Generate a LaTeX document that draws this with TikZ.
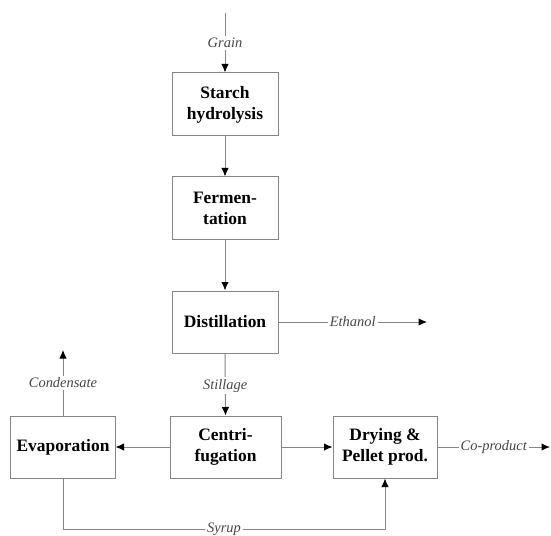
\documentclass[tikz,border=0pt]{standalone}
\usepackage{fontspec}
\setmainfont{Liberation Serif}
\usetikzlibrary{arrows.meta}
\definecolor{linegray}{HTML}{858585}
\definecolor{labgray}{HTML}{454545}
\tikzset{
  unit/.style={draw=linegray, line width=1bp, rectangle, inner sep=0pt,
    minimum height=62bp, align=center, font=\fontsize{17.5}{21}\selectfont\bfseries},
  flow/.style={draw=linegray, line width=1bp,
    -{Latex[length=8.5bp,width=7.5bp,color=black]}},
  lab/.style={fill=white, inner sep=2bp, text=labgray,
    font=\fontsize{14.5}{16}\selectfont\itshape}
}
\begin{document}
\begin{tikzpicture}[x=1bp,y=-1bp]
  \useasboundingbox (0,0) rectangle (551,536);

  % process units
  \node[unit, minimum width=106bp, minimum height=63bp] (starch) at (225,104.5) {Starch\\hydrolysis};
  \node[unit, minimum width=106bp] (ferm) at (225,208) {Fermen-\\tation};
  \node[unit, minimum width=106bp] (dist) at (225,322) {Distillation};
  \node[unit, minimum width=104bp] (evap) at (63,447) {Evaporation};
  \node[unit, minimum width=111bp] (centri) at (225.5,447) {Centri-\\fugation};
  \node[unit, minimum width=104bp] (dry) at (385,447) {Drying \&\\Pellet prod.};

  % free ends of the feed and product streams
  \coordinate (grain) at (225,13);
  \coordinate (ethanol) at (427,322);
  \coordinate (coprod) at (550,447);
  \coordinate (cond) at (63,350);
  \coordinate (syrupline) at (0,529);

  % streams
  \draw[flow] (grain) -- node[lab] {Grain} (starch.north);
  \draw[flow] (starch.south) -- (ferm.north);
  \draw[flow] (ferm.south) -- (dist.north);
  \draw[flow] (dist.east) -- node[lab] {Ethanol} (ethanol);
  \draw[flow] (dist.south) -- node[lab, pos=0.52] {Stillage} (centri.north);
  \draw[flow] (centri.west) -- (evap.east);
  \draw[flow] (centri.east) -- (dry.west);
  \draw[flow] (evap.north) -- node[lab] {Condensate} (cond);
  \draw[flow] (dry.east) -- node[lab] {Co-product} (coprod);
  \draw[flow] (evap.south) -- (evap.south |- syrupline)
    -- node[lab] {Syrup} (dry.south |- syrupline) -- (dry.south);
\end{tikzpicture}
\end{document}
